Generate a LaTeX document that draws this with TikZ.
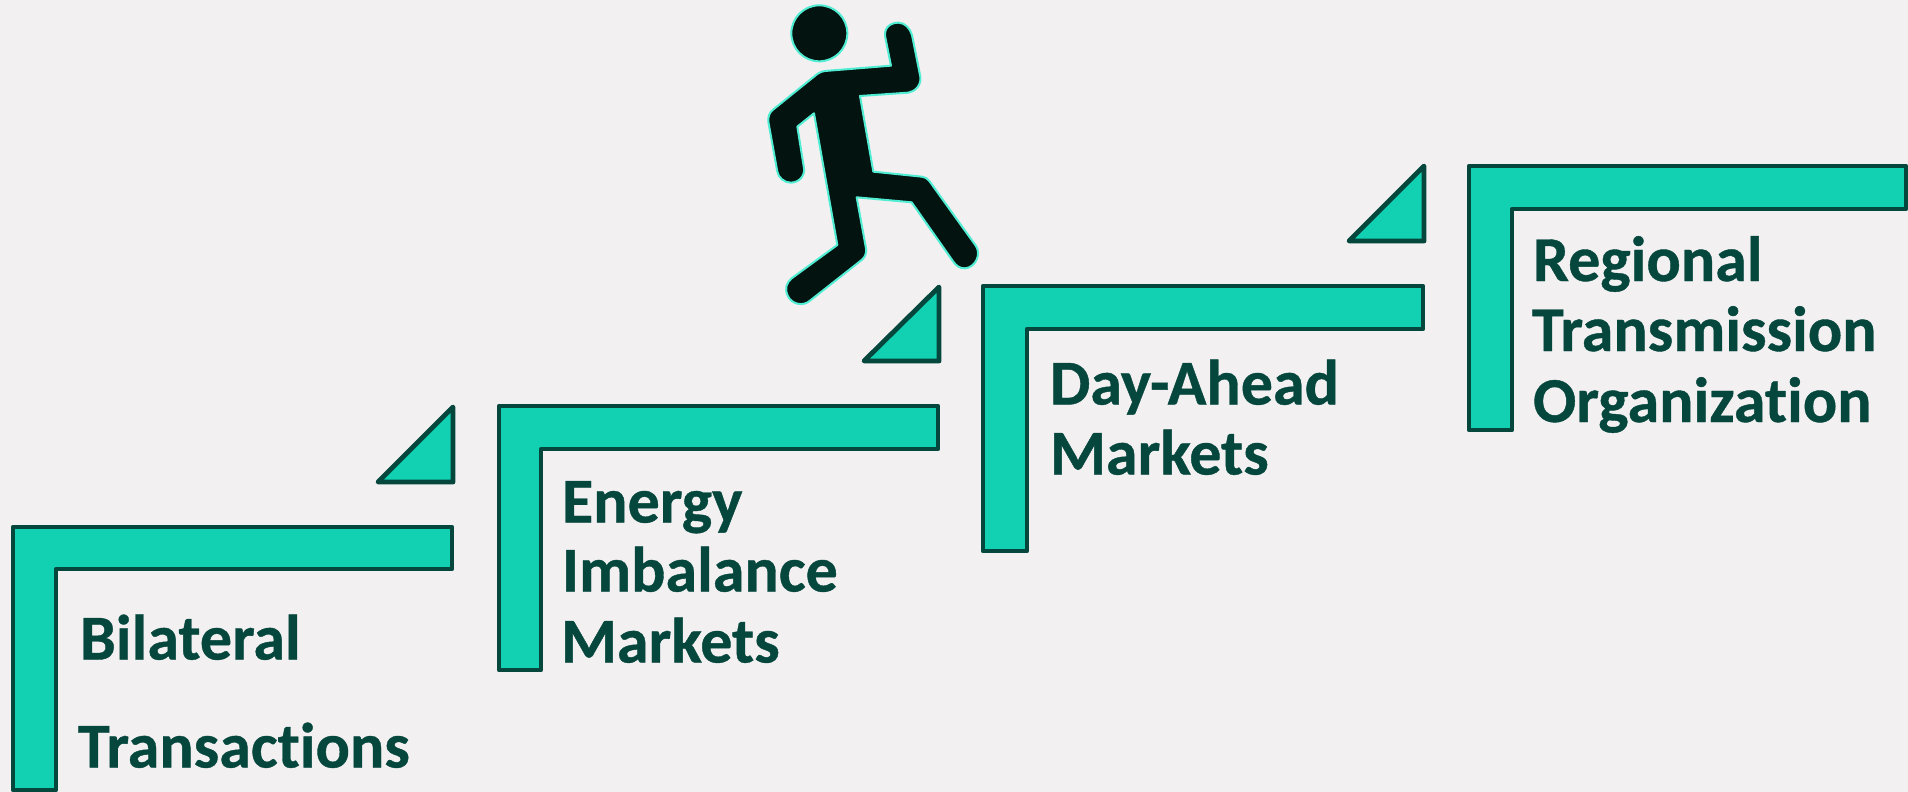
\documentclass[tikz,border=0pt]{standalone}
\usepackage{fontspec}
\setmainfont[Ligatures=NoCommon,BoldFeatures={FakeBold=0.6,RawFeature=-liga;-dlig;-clig}]{Carlito}
\definecolor{bgc}{HTML}{F2F0F1}
\definecolor{tealfill}{HTML}{12D1B3}
\definecolor{darkt}{HTML}{05473D}
\definecolor{runner}{HTML}{021310}
\definecolor{glow}{HTML}{50EDD3}
\tikzset{
  stepshape/.style={draw=darkt,fill=tealfill,line width=4.8pt,line join=round},
  label/.style={anchor=base west,inner sep=0pt,outer sep=0pt,text=darkt,font=\fontsize{64pt}{64pt}\selectfont\bfseries},
  figure/.style={fill=runner,draw=glow,line width=2pt,line join=round}
}
\begin{document}
\begin{tikzpicture}[x=1pt,y=-1pt]
\fill[bgc] (0,0) rectangle (1908,792);
\path[use as bounding box] (0,0) rectangle (1908,792);
% steps
\draw[stepshape] (13,790) -- (13,527) -- (452,527) -- (452,569) -- (56,569) -- (56,790) -- cycle;
\draw[stepshape] (499,670) -- (499,406) -- (938,406) -- (938,449) -- (541,449) -- (541,670) -- cycle;
\draw[stepshape] (983,551) -- (983,286) -- (1423,286) -- (1423,329) -- (1027,329) -- (1027,551) -- cycle;
\draw[stepshape] (1469,430) -- (1469,166) -- (1906,166) -- (1906,209) -- (1512,209) -- (1512,430) -- cycle;
% triangles
\draw[stepshape] (453,407) -- (453,482) -- (378,482) -- cycle;
\draw[stepshape] (939,287) -- (939,361) -- (864,361) -- cycle;
\draw[stepshape] (1424,166) -- (1424,241) -- (1349,241) -- cycle;
% labels
\node[label] (t1a) at (80,659.5) {Bilateral};
\node[label] (t1b) at (78,767.5) {Transactions};
\node[label] (t2a) at (562,522.5) {Energy};
\node[label] (t2b) at (562,591.5) {Imbalance};
\node[label] (t2c) at (561,662.5) {Markets};
\node[label] (t3a) at (1050,404.5) {Day-Ahead};
\node[label] (t3b) at (1050,474.5) {Markets};
\node[label] (t4a) at (1533,281) {Regional};
\node[label] (t4b) at (1532,351) {Transmission};
\node[label] (t4c) at (1533,422) {Organization};
% runner
\begin{scope}[shift={(740,0)},x=0.3333pt,y=-0.3333pt]
\draw[figure] (238,100) circle[radius=84];
\draw[figure] (453,197) -- (436,112)
  .. controls (430,85) and (450,68) .. (475,68)
  .. controls (495,68) and (510,85) .. (516,105)
  -- (541,230) .. controls (545,255) and (525,275) .. (505,278)
  -- (360,288) -- (400,515) -- (545,530)
  .. controls (555,531) and (562,535) .. (568,543)
  -- (708,738) .. controls (725,765) and (705,803) .. (675,805)
  .. controls (660,806) and (648,797) .. (640,785)
  -- (515,607) -- (350,592) -- (378,745)
  .. controls (380,760) and (375,772) .. (365,780)
  -- (210,902) .. controls (190,920) and (155,914) .. (143,887)
  .. controls (133,865) and (140,848) .. (155,835)
  -- (292,735) -- (222,340) -- (172,380) -- (192,505)
  .. controls (195,530) and (175,548) .. (152,548)
  .. controls (132,548) and (115,532) .. (112,515)
  -- (85,365) .. controls (84,350) and (88,338) .. (98,330)
  -- (232,222) .. controls (240,216) and (247,214) .. (255,213)
  -- cycle;
\end{scope}
\end{tikzpicture}
\end{document}
